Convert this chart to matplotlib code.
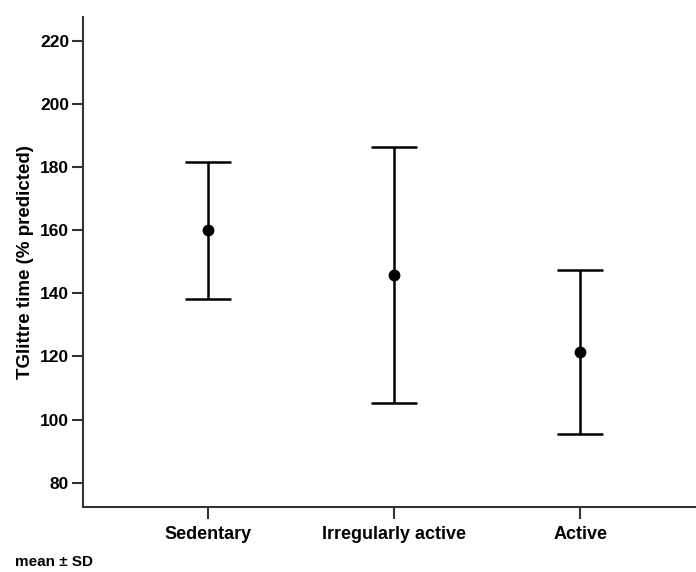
import numpy as np
import matplotlib.pyplot as plt

plt.rcParams['font.family'] = ['Liberation Sans', 'DejaVu Sans']

categories = ['Sedentary', 'Irregularly active', 'Active']
means = [160.0, 145.9, 121.5]
sds = [21.8, 40.5, 26.0]
yticks = [80, 100, 120, 140, 160, 180, 200, 220]

fig = plt.figure(figsize=(6.96, 5.72), dpi=100)
ax = fig.add_axes([83/696, 1 - 507/572, 613/696, 490/572])

x = np.arange(len(categories))
ax.errorbar(x, means, yerr=sds, fmt='o', color='black', ms=7.5,
            elinewidth=1.8, capsize=16.5, capthick=1.8)

ax.set_xlim(-0.67, 2.62)
ax.set_ylim(72.3, 227.6)
ax.set_xticks(x)
ax.set_xticklabels(categories, fontsize=13, fontweight='bold')
ax.set_yticks(yticks)
ax.set_yticklabels([str(v) for v in yticks], fontsize=12.5, fontweight='bold')
ax.set_ylabel('TGlittre time (% predicted)', fontsize=13.5, fontweight='bold', labelpad=4)

for s in ['top', 'right']:
    ax.spines[s].set_visible(False)
for s in ['left', 'bottom']:
    ax.spines[s].set_linewidth(1.5)
    ax.spines[s].set_color('#333333')
ax.tick_params(axis='both', width=1.5, length=8, color='#333333', pad=2)
ax.tick_params(axis='x', length=8.5, pad=5)

fig.text(15/696, 1 - 562/572, 'mean \u00b1 SD', fontsize=11, fontweight='bold', va='center')

fig.savefig('out.png', dpi=100)
